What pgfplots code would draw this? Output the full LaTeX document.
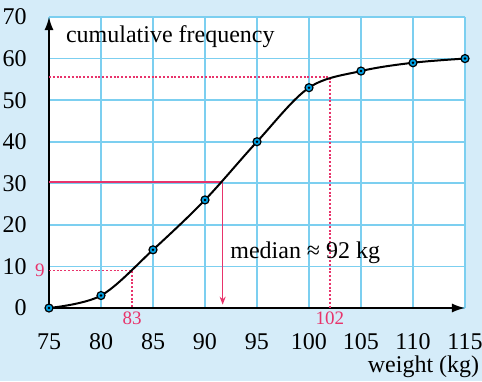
\documentclass[border=0pt]{standalone}
\usepackage{pgfplots}
\pgfplotsset{compat=1.18}
\usepackage{fontspec}
\setmainfont{Liberation Serif}
\usetikzlibrary{arrows.meta}
\definecolor{bg}{HTML}{D5ECF9}
\definecolor{gridblue}{HTML}{7CCFF0}
\definecolor{mag}{HTML}{E8336B}
\definecolor{ptblue}{HTML}{00A0E3}
\begin{document}
\fontsize{12}{14}\selectfont
\begin{tikzpicture}
\fill[bg] (0,0) rectangle (241pt,190.5pt);
\begin{axis}[
  at={(24.5pt,36.5pt)}, anchor=south west,
  scale only axis, width=208pt, height=145.5pt,
  xmin=75, xmax=115, ymin=0, ymax=70,
  xtick={75,80,...,115}, ytick={0,10,...,70},
  axis lines=left,
  axis line style={line width=0.8pt, -{Latex[length=6.5pt,width=4.5pt]}},
  grid=major, major grid style={gridblue, line width=0.8pt},
  major tick length=0pt,
  axis background/.style={fill=white},
  tick label style={font=\rmfamily\fontsize{12}{14}\selectfont},
  /pgf/number format/assume math mode=true,
  xticklabel style={yshift=-8.5pt},
  yticklabel style={xshift=-7pt},
  clip=false,
]
\addplot[mag, line width=0.8pt, dash pattern=on 1pt off 0.9pt] coordinates {(75,9) (83,9) (83,0)};
\addplot[mag, line width=0.8pt, dash pattern=on 1pt off 0.9pt] coordinates {(75,55.5) (102,55.5) (102,0)};
\addplot[mag, line width=0.8pt, -{Stealth[length=4pt,width=3pt]}] coordinates {(75,30.3) (91.7,30.3) (91.7,0.8)};
\addplot[black, line width=1pt, smooth, tension=0.55, mark=*, mark size=2pt,
  mark options={fill=ptblue, draw=black, line width=0.6pt}] coordinates {
  (75,0) (80,3) (85,14) (90,26) (95,40) (100,53) (105,57) (110,59) (115,60)};
\addplot[only marks, black, mark=*, mark size=0.4pt] coordinates {
  (75,0) (80,3) (85,14) (90,26) (95,40) (100,53) (105,57) (110,59) (115,60)};
\node[mag, anchor=east, font=\rmfamily\fontsize{9.5}{11}\selectfont, inner sep=1pt, xshift=-1pt] at (axis cs:75,9) {9};
\node[mag, anchor=north, font=\rmfamily\fontsize{9.5}{11}\selectfont, inner sep=1.5pt] at (axis cs:83,0) {83};
\node[mag, anchor=north, font=\rmfamily\fontsize{9.5}{11}\selectfont, inner sep=1.5pt] at (axis cs:102,0) {102};
\node[anchor=base west, inner sep=0pt, font=\rmfamily] at (axis cs:92.4,11.8) {median ≈ 92 kg};
\node[anchor=base west, inner sep=0pt, font=\rmfamily] at (axis cs:76.6,63.9) {cumulative frequency};
\node[anchor=base east, inner sep=0pt, font=\rmfamily] at (axis cs:116.4,-15.5) {weight (kg)};
\end{axis}
\pgfresetboundingbox
\path[use as bounding box] (0,0) rectangle (241pt,190.5pt);
\end{tikzpicture}
\end{document}
